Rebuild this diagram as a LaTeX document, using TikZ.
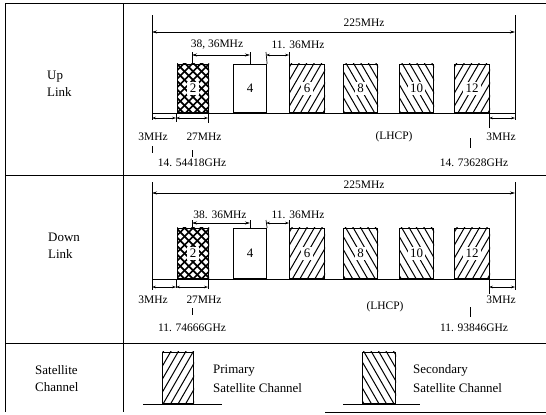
\documentclass[tikz,border=0pt]{standalone}
\usepackage{fontspec}
\setmainfont{Liberation Serif}
\usetikzlibrary{arrows.meta}
% #1 node, #2 horizontal step, #3 half horizontal run of a line (sign gives direction), #4 line width
\newcommand\hatchin[4]{%
  \begin{scope}
    \clip (#1.south west) rectangle (#1.north east);
    \foreach \k in {-9,...,9}{%
      \draw[line width=#4, shift={(#1.center)}] (\k*#2-#3,35) -- (\k*#2+#3,-35);
    }
  \end{scope}}
\newcommand\bandpanel[1]{%
  % outer verticals
  \coordinate (#1-Lt) at (152,\yVt); \coordinate (#1-Lb) at (152,\yVb);
  \coordinate (#1-Rt) at (515,\yVt); \coordinate (#1-Rb) at (515,\yVb);
  \draw[vline] (#1-Lt) -- (#1-Lb);
  \draw[vline] (#1-Rt) -- (#1-Rb);
  % 225 MHz
  \coordinate (#1-aL) at (152,\yTa); \coordinate (#1-aR) at (515,\yTa);
  \draw[dimline] (#1-aL) -- (#1-aR);
  \node[lbl] (#1-t225) at (364,\yTl) {225MHz};
  % baseline
  \coordinate (#1-b0) at (152,\yBase); \coordinate (#1-b1) at (515,\yBase);
  \draw[line width=1bp] (#1-b0) -- (#1-b1);
  % channels
  \node[chan,minimum width=31bp] (#1-c2) at (177,\yBase) {};
  \node[chan,minimum width=33bp] (#1-c4) at (233,\yBase) {};
  \node[chan,minimum width=35bp] (#1-c6) at (289,\yBase) {};
  \node[chan,minimum width=34bp] (#1-c8) at (343,\yBase) {};
  \node[chan,minimum width=34bp] (#1-c10) at (399,\yBase) {};
  \node[chan,minimum width=35bp] (#1-c12) at (454,\yBase) {};
  \hatchin{#1-c2}{8.5}{35}{1.7bp}\hatchin{#1-c2}{8.5}{-35}{1.7bp}
  \hatchin{#1-c6}{7.5}{20.2}{1bp}
  \hatchin{#1-c8}{7.5}{-20.2}{1bp}
  \hatchin{#1-c10}{7.5}{-20.2}{1bp}
  \hatchin{#1-c12}{7.5}{20.2}{1bp}
  \node[num] (#1-n2) at (#1-c2.center) {2};
  \node[num] (#1-n4) at (#1-c4.center) {4};
  \node[num] (#1-n6) at (#1-c6.center) {6};
  \node[num] (#1-n8) at (#1-c8.center) {8};
  \node[num] (#1-n10) at (#1-c10.center) {10};
  \node[num] (#1-n12) at (#1-c12.center) {12};
  % 38.36 MHz
  \coordinate (#1-dA) at (192,\yDt); \coordinate (#1-dB) at (250,\yDt);
  \coordinate (#1-dC) at (266,\yDt); \coordinate (#1-dD) at (289,\yDt);
  \draw[tick] (#1-dA) -- (#1-c2.north -| #1-dA);
  \draw[tick] (#1-dB) -- (#1-c4.north -| #1-dB);
  \draw[tick] (#1-dC) -- (#1-c4.north east);
  \draw[tick] (#1-dD) -- (#1-c6.north west);
  \coordinate (#1-eA) at (192,\yDa); \coordinate (#1-eB) at (250,\yDa);
  \coordinate (#1-eC) at (266,\yDa); \coordinate (#1-eD) at (289,\yDa);
  \draw[dimline] (#1-eA) -- (#1-eB);
  \draw[dimsmall] (#1-eC) -- (#1-eD);
  \node[lbl] (#1-t38) at (\xDl,\yDl) {\tDA};
  \node[lbl] (#1-t11) at (298,\yDl) {11. 36MHz};
  % lower dimensions
  \coordinate (#1-k1) at (176,\yBase); \coordinate (#1-k1b) at (176,\yBase+9);
  \coordinate (#1-k2) at (208,\yBase); \coordinate (#1-k2b) at (208,\yBase+10);
  \coordinate (#1-k3) at (489,\yBase); \coordinate (#1-k3b) at (489,\yBase+15);
  \draw[tick] (#1-k1) -- (#1-k1b);
  \draw[tick] (#1-k2) -- (#1-k2b);
  \draw[tick] (#1-k3) -- (#1-k3b);
  \coordinate (#1-m0) at (152,\yDim); \coordinate (#1-m1) at (176,\yDim);
  \coordinate (#1-m2) at (208,\yDim); \coordinate (#1-m3) at (489,\yDim);
  \coordinate (#1-m4) at (515,\yDim);
  \draw[dimsmall] (#1-m0) -- (#1-m1);
  \draw[dimsmall] (#1-m1) -- (#1-m2);
  \draw[dimsmall] (#1-m3) -- (#1-m4);
  \node[lbl] (#1-t3a) at (153,\yLab) {3MHz};
  \node[lbl] (#1-t27) at (204,\yLab) {27MHz};
  \node[lbl] (#1-t3b) at (501,\yLab) {3MHz};
  \node[lbl] (#1-lhcp) at (\xLH,\yLH) {(LHCP)};
  \coordinate (#1-s1) at (192,\ySa); \coordinate (#1-s1b) at (192,\ySa+7);
  \coordinate (#1-s2) at (470,\ySb); \coordinate (#1-s2b) at (470,\ySb+10);
  \draw[tick] (#1-s1) -- (#1-s1b);
  \draw[tick] (#1-s2) -- (#1-s2b);
  \node[lbl] (#1-fL) at (192,\yGHz) {\tFL};
  \node[lbl] (#1-fR) at (474,\yGHz) {\tFR};
}
\begin{document}
\begin{tikzpicture}[x=1bp,y=-1bp,
  frame/.style={line width=0.9bp},
  chan/.style={draw, line width=1.1bp, anchor=south west, inner sep=0pt, minimum height=\hB bp},
  num/.style={fill=white, inner sep=2.4bp, font=\fontsize{13}{14}\selectfont},
  dimline/.style={{Stealth[length=5bp,width=3bp]}-{Stealth[length=5bp,width=3bp]}, line width=0.6bp},
  dimsmall/.style={{Stealth[length=4bp,width=2.6bp]}-{Stealth[length=4bp,width=2.6bp]}, line width=0.6bp},
  tick/.style={line width=0.7bp},
  vline/.style={line width=0.8bp},
  lbl/.style={inner sep=0pt, font=\fontsize{11.5}{13}\selectfont},
  rowlbl/.style={inner sep=0pt, anchor=west, align=left, font=\fontsize{13}{17}\selectfont},
  leglbl/.style={inner sep=0pt, anchor=west, align=left, font=\fontsize{13}{19}\selectfont},
]
\useasboundingbox (0,0) rectangle (546,414);
% table frame
\coordinate (f-tl) at (5,3); \coordinate (f-tr) at (546,3);
\coordinate (f-bl) at (5,412);
\coordinate (f-dt) at (123,3); \coordinate (f-db) at (123,412);
\coordinate (f-h1l) at (5,175); \coordinate (f-h1r) at (546,175);
\coordinate (f-h2l) at (5,343); \coordinate (f-h2r) at (546,343);
\coordinate (f-bm) at (325,412); \coordinate (f-br) at (546,412);
\draw[frame] (f-tl) -- (f-tr);
\draw[frame] (f-tl) -- (f-bl);
\draw[frame] (f-dt) -- (f-db);
\draw[frame] (f-h1l) -- (f-h1r);
\draw[frame] (f-h2l) -- (f-h2r);
\draw[frame] (f-bm) -- (f-br);
% row labels
\node[rowlbl] (r-up) at (47,84) {Up\\Link};
\node[rowlbl] (r-down) at (48,246) {Down\\Link};
\node[rowlbl] (r-sat) at (35,379) {Satellite\\Channel};
% up link
\def\hB{48}
\def\yVt{15}\def\yVb{120}\def\yTa{32}\def\yTl{23}
\def\yBase{113}\def\yDt{52}\def\yDa{55}\def\yDl{45}\def\xDl{217}
\def\yDim{118}\def\yLab{137}\def\xLH{394}\def\yLH{137}
\def\ySa{150}\def\ySb{138}\def\yGHz{163}
\def\tDA{38, 36MHz}\def\tFL{14. 54418GHz}\def\tFR{14. 73628GHz}
\bandpanel{u}
\coordinate (u-s0) at (152,146); \coordinate (u-s0b) at (152,153);
\draw[tick] (u-s0) -- (u-s0b);
% down link
\def\hB{50}
\def\yVt{182}\def\yVb{290}\def\yTa{193}\def\yTl{185}
\def\yBase{279}\def\yDt{220}\def\yDa{223}\def\yDl{215}\def\xDl{220}
\def\yDim{287}\def\yLab{300}\def\xLH{385}\def\yLH{307}
\def\ySa{308}\def\ySb{307}\def\yGHz{328}
\def\tDA{38. 36MHz}\def\tFL{11. 74666GHz}\def\tFR{11. 93846GHz}
\bandpanel{d}
% legend
\def\hB{51}
\node[chan,minimum width=31bp] (lg-p) at (162,404) {};
\hatchin{lg-p}{7.5}{20.2}{1bp}
\coordinate (lg-p0) at (143,404); \coordinate (lg-p1) at (222,404);
\draw[line width=0.9bp] (lg-p0) -- (lg-p1);
\node[leglbl] (lg-pt) at (213,379) {Primary\\Satellite Channel};
\node[chan,minimum width=33bp] (lg-s) at (362,404) {};
\hatchin{lg-s}{7.5}{-20.2}{1bp}
\coordinate (lg-s0) at (343,404); \coordinate (lg-s1) at (420,404);
\draw[line width=0.9bp] (lg-s0) -- (lg-s1);
\node[leglbl] (lg-st) at (413,379) {Secondary\\Satellite Channel};
\end{tikzpicture}
\end{document}
